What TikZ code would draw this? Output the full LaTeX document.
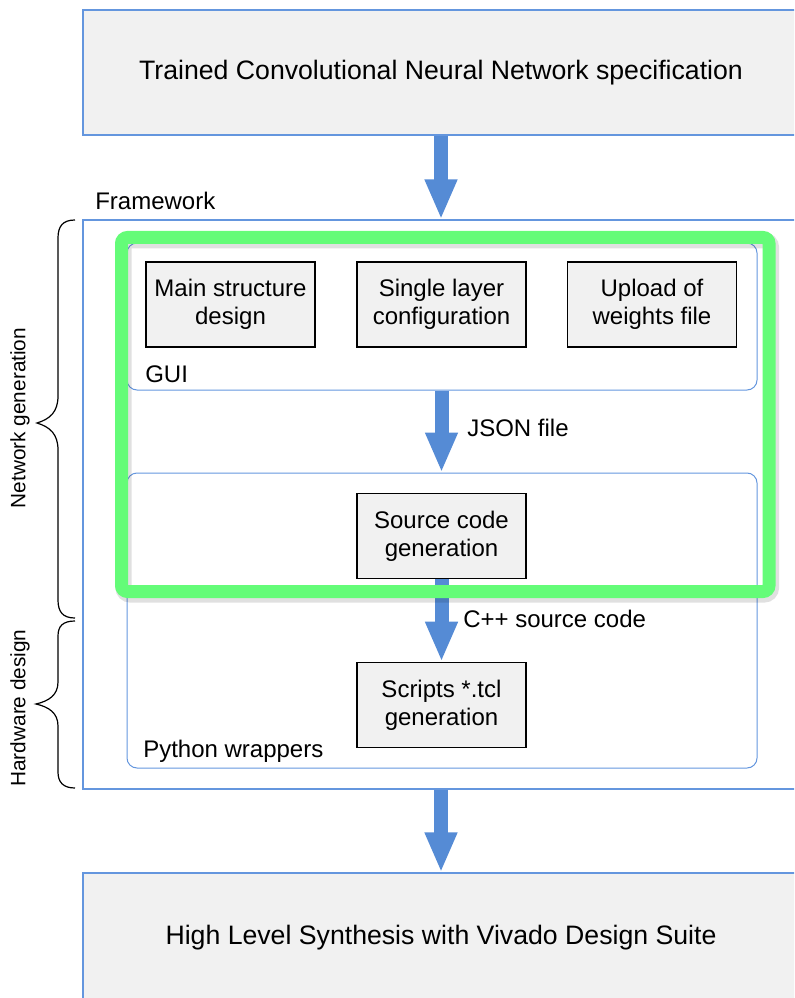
\documentclass[tikz,border=0pt]{standalone}
\usepackage{fontspec}
\setmainfont{Liberation Sans}
\usetikzlibrary{arrows.meta,calc}
\definecolor{boxblue}{RGB}{100,150,222}
\definecolor{arrowblue}{RGB}{85,139,213}
\definecolor{hlgreen}{RGB}{100,252,120}
\definecolor{boxgray}{RGB}{241,241,241}
\tikzset{
  bigbox/.style={draw=boxblue, fill=boxgray, line width=0.9pt, inner sep=0pt, minimum width=537pt, font=\fontsize{20}{24}\selectfont},
  outerbox/.style={draw=boxblue, line width=0.9pt, inner sep=0pt, minimum width=537pt},
  groupbox/.style={draw=boxblue, line width=0.75pt, rounded corners=7.5pt, inner sep=0pt, minimum width=472.5pt},
  stepbox/.style={draw=black, fill=boxgray, line width=1.2pt, minimum width=126.75pt, minimum height=63.75pt, align=center, inner sep=0pt, font=\fontsize{18}{21}\selectfont},
  lbl/.style={inner sep=0pt, font=\fontsize{18}{21}\selectfont},
  sidelbl/.style={inner sep=0pt, rotate=90, font=\fontsize{15.6}{18}\selectfont},
  flow/.style={draw=arrowblue, line width=10.5pt, -{Triangle[width=22.5pt,length=30pt]}},
  bracepath/.style={draw=black, line width=0.9pt},
  highlight/.style={draw=hlgreen, line width=9.75pt, rounded corners=4.5pt},
  hlshadow/.style={draw=black, opacity=0.12, line width=12pt, rounded corners=5pt}
}
\begin{document}
\begin{tikzpicture}[x=0.75pt,y=-0.75pt]
\useasboundingbox (0,0) rectangle (794,998);
\clip (0,0) rectangle (794,998);

% main boxes
\node[bigbox, minimum height=93.75pt] (top) at (441,72.5) {Trained Convolutional Neural Network specification};
\node[outerbox, minimum height=426.75pt] (fw) at (441,504.5) {};
\node[bigbox, minimum height=97.5pt] (bottom) at (441,938) {High Level Synthesis with Vivado Design Suite};
\node[lbl, anchor=west] (fwlbl) at (95,201) {Framework};

% group boxes
\node[groupbox, minimum height=110.25pt] (gui) at (442,316.5) {};
\node[groupbox, minimum height=221.25pt] (py) at (442,620.5) {};
\node[lbl, anchor=west] (guilbl) at (145,374) {GUI};
\node[lbl, anchor=west] (pylbl) at (143,751) {Python wrappers};

% steps
\node[stepbox] (main) at (230.5,304.5) {Main structure\\design};
\node[stepbox] (single) at (441.5,304.5) {Single layer\\configuration};
\node[stepbox] (upload) at (652,304.5) {Upload of\\weights file};
\node[stepbox] (src) at (441.5,536) {Source code\\generation};
\node[stepbox] (tcl) at (441.5,705) {Scripts *.tcl\\generation};

% arrows
\draw[flow] (top.south) -- (fw.north);
\draw[flow] (single |- gui.south) -- (single |- py.north);
\draw[flow] (src.south) -- (tcl.north);
\draw[flow] (fw.south) -- (bottom.north);
\node[lbl, anchor=west] (json) at (467,428) {JSON file};
\node[lbl, anchor=west] (cpp) at (463,619) {C++ source code};

% braces
\draw[bracepath] (75,220) .. controls (63,220) and (58,226) .. (58,238) -- (58,396)
  .. controls (58,412) and (50,419) .. (37,423)
  .. controls (50,427) and (58,434) .. (58,450) -- (58,600)
  .. controls (58,612) and (63,618) .. (75,618);
\draw[bracepath] (75,621) .. controls (63,621) and (58,626) .. (58,636) -- (58,682)
  .. controls (58,695) and (49,701) .. (36,704)
  .. controls (49,707) and (58,713) .. (58,726) -- (58,772)
  .. controls (58,782) and (63,788) .. (75,788);
\node[sidelbl] (netlbl) at (20,418) {Network generation};
\node[sidelbl] (hwlbl) at (20,708) {Hardware design};

% highlight
\draw[hlshadow] (123.5,240.5) rectangle (771,594.5);
\draw[highlight] (121.5,237.5) rectangle (769,591.5);
\end{tikzpicture}
\end{document}
